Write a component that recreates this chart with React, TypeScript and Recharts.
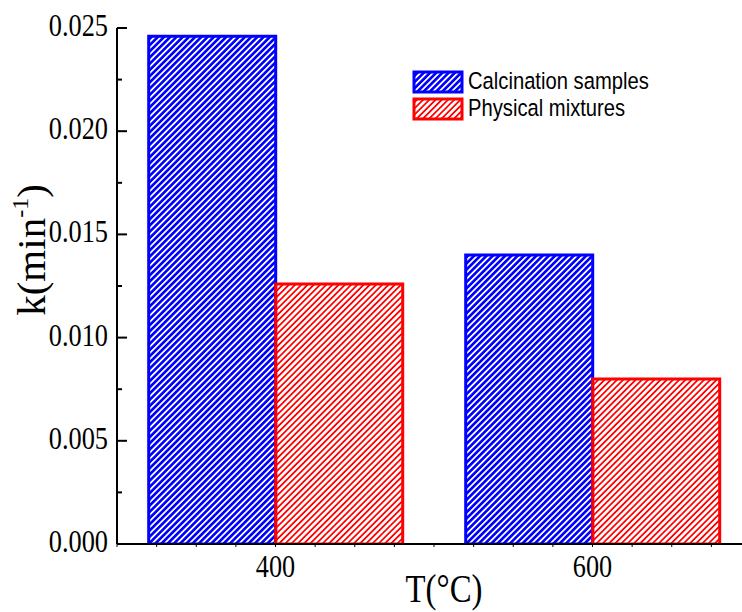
import { BarChart, Bar, XAxis, YAxis, Legend, Label } from 'recharts'

const TEMPS = [400, 600]
const CALCINATION = [0.0246, 0.014]
const PHYSICAL = [0.0126, 0.008]

const Y_TICKS = [0, 0.0025, 0.005, 0.0075, 0.01, 0.0125, 0.015, 0.0175, 0.02, 0.0225, 0.025]
const X_TICKS = [300, 325, 350, 375, 400, 425, 450, 475, 500, 525, 550, 575, 600, 625, 650, 675, 700]
const X_LABELS = [400, 600]

const SERIES = [
  { key: 'calc', name: 'Calcination samples', color: '#0000ff', pattern: 'hatchBlue', line: 2.4 },
  { key: 'phys', name: 'Physical mixtures', color: '#ff0000', pattern: 'hatchRed', line: 1.9 },
]

const data = TEMPS.map((t, i) => ({ t, calc: CALCINATION[i], phys: PHYSICAL[i] }))

const SERIF = "'Liberation Serif', 'Times New Roman', serif"
const SANS = "'Liberation Sans', Arial, sans-serif"

function Hatch({ id, color, w }: { id: string; color: string; w: number }) {
  return (
    <pattern id={id} patternUnits="userSpaceOnUse" width={4.4} height={4.4} patternTransform="rotate(45)">
      <rect x={0} y={0} width={w} height={4.4} fill={color} shapeRendering="crispEdges" />
    </pattern>
  )
}

function YTick(props: any) {
  const { x, y, payload } = props
  const axisX = x + 9
  const major = Math.round(payload.value * 10000) % 50 === 0
  return (
    <g>
      <line x1={axisX} x2={axisX + (major ? 10 : 5)} y1={y} y2={y} stroke="#000" strokeWidth={2} />
      {major && (
        <text
          transform={`translate(${x},${y + 8}) scale(0.85,1)`}
          textAnchor="end"
          fontSize={31}
          fontFamily={SERIF}
          fill="#000"
        >
          {payload.value.toFixed(3)}
        </text>
      )}
    </g>
  )
}

function XTick(props: any) {
  const { x, y, payload } = props
  if (!X_LABELS.includes(payload.value)) return <g />
  return (
    <text
      transform={`translate(${x},${y + 28}) scale(0.82,1)`}
      textAnchor="middle"
      fontSize={32}
      fontFamily={SERIF}
      fill="#000"
    >
      {payload.value}
    </text>
  )
}

function XTitle(props: any) {
  const vb = props.viewBox || { x: 117, y: 544, width: 634 }
  return (
    <text
      transform={`translate(${vb.x + vb.width / 2 + 10},${vb.y + 58}) scale(0.8,1)`}
      textAnchor="middle"
      fontSize={41}
      fontFamily={SERIF}
      fill="#000"
    >
      T(°C)
    </text>
  )
}

function YTitle() {
  return (
    <text transform="translate(45,250) rotate(-90)" textAnchor="middle" fontSize={41} fontFamily={SERIF} fill="#000">
      k(min
      <tspan dy={-17} fontSize={24}>-1</tspan>
      <tspan dy={17}>)</tspan>
    </text>
  )
}

function LegendBox() {
  return (
    <svg width={290} height={60}>
      <defs>
        {SERIES.map((s) => (
          <Hatch key={s.key} id={s.pattern + 'L'} color={s.color} w={s.line} />
        ))}
      </defs>
      {SERIES.map((s, i) => (
        <g key={s.key} transform={`translate(0,${i * 27})`}>
          <rect x={4} y={6} width={48} height={20} fill={`url(#${s.pattern}L)`} stroke={s.color} strokeWidth={3} />
          <text transform="translate(58,23) scale(0.86,1)" fontSize={23.5} fontFamily={SANS} fill="#000">
            {s.name}
          </text>
        </g>
      ))}
    </svg>
  )
}

export default function App() {
  return (
    <div style={{ position: 'absolute', left: 0, top: 0, width: 742, height: 612, overflow: 'hidden', background: '#fff' }}>
      <BarChart
        width={760}
        height={612}
        data={data}
        margin={{ top: 28, right: 9, bottom: 8, left: 17 }}
        barCategoryGap="10%"
        barGap={0}
      >
        <defs>
          {SERIES.map((s) => (
            <Hatch key={s.key} id={s.pattern} color={s.color} w={s.line} />
          ))}
        </defs>
        <XAxis
          dataKey="t"
          type="number"
          domain={[300, 700]}
          ticks={X_TICKS}
          interval={0}
          allowDataOverflow
          height={60}
          tickSize={3}
          tickMargin={2}
          tick={<XTick />}
          tickLine={{ stroke: '#000' }}
          axisLine={{ stroke: '#000', strokeWidth: 2 }}
        >
          <Label content={<XTitle />} />
        </XAxis>
        <YAxis
          type="number"
          domain={[0, 0.025]}
          ticks={Y_TICKS}
          interval={0}
          allowDataOverflow
          width={100}
          tickSize={0}
          tickMargin={9}
          tickLine={false}
          tick={<YTick />}
          axisLine={{ stroke: '#000', strokeWidth: 2 }}
        >
          <Label content={<YTitle />} />
        </YAxis>
        <Legend
          layout="horizontal"
          verticalAlign="middle"
          align="center"
          content={<LegendBox />}
          wrapperStyle={{ position: 'absolute', top: 66, left: 410, width: 290 }}
        />
        {SERIES.map((s) => (
          <Bar
            key={s.key}
            dataKey={s.key}
            name={s.name}
            fill={`url(#${s.pattern})`}
            stroke={s.color}
            strokeWidth={3}
            isAnimationActive={false}
          />
        ))}
      </BarChart>
    </div>
  )
}
